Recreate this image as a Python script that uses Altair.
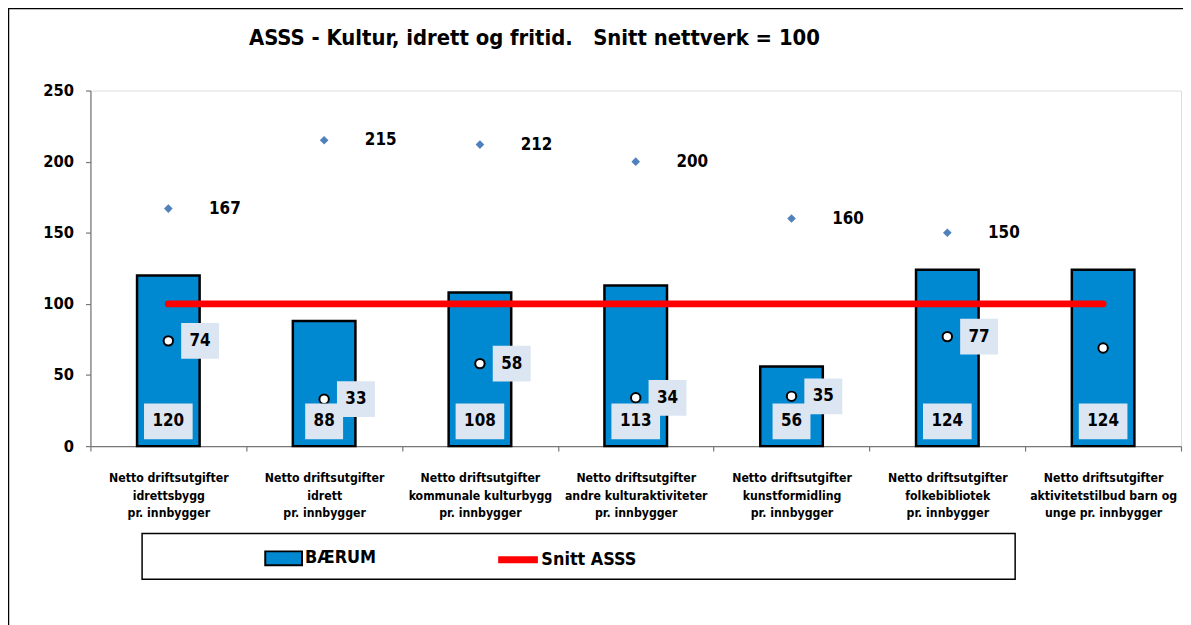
import altair as alt
import pandas as pd

FONT = "DejaVu Sans Condensed, Liberation Sans Narrow, sans-serif"

categories = [
    "Netto driftsutgifter|idrettsbygg|pr. innbygger",
    "Netto driftsutgifter|idrett|pr. innbygger",
    "Netto driftsutgifter|kommunale kulturbygg|pr. innbygger",
    "Netto driftsutgifter|andre kulturaktiviteter|pr. innbygger",
    "Netto driftsutgifter|kunstformidling|pr. innbygger",
    "Netto driftsutgifter|folkebibliotek|pr. innbygger",
    "Netto driftsutgifter|aktivitetstilbud barn og|unge pr. innbygger",
]
baerum = [120, 88, 108, 113, 56, 124, 124]
snitt = [100, 100, 100, 100, 100, 100, 100]
maks = [167, 215, 212, 200, 160, 150, None]
mins = [74, 33, 58, 34, 35, 77, 69]
min_labels = ["74", "33", "58", "34", "35", "77", ""]
y_ticks = [0, 50, 100, 150, 200, 250]

df = pd.DataFrame({
    "cat": categories,
    "baerum": baerum,
    "snitt": snitt,
    "maks": maks,
    "mins": mins,
    "minlab": min_labels,
    "serie_bar": ["BÆRUM"] * len(categories),
    "serie_line": ["Snitt ASSS"] * len(categories),
})

x = alt.X(
    "cat:N", sort=categories,
    scale=alt.Scale(paddingInner=0, paddingOuter=0),
    axis=alt.Axis(
        title=None, labelAngle=0, labelExpr="split(datum.label, '|')",
        labelFont=FONT, labelFontSize=12.3, labelFontWeight="bold", labelColor="black",
        labelLineHeight=17.5, labelPadding=21, labelBaseline="top", labelLimit=300,
        tickSize=5, tickBand="extent", tickColor="#777", domainColor="#777",
        domainWidth=1.2, tickWidth=1.2,
    ),
)
y_scale = alt.Scale(domain=[0, 250], nice=False, zero=True)
y_axis = alt.Axis(
    title=None, values=y_ticks, grid=False,
    labelFont=FONT, labelFontSize=16.5, labelFontWeight="bold", labelColor="black",
    labelPadding=12, tickSize=5, tickColor="#777", domainColor="#777",
    domainWidth=1.2, tickWidth=1.2,
)

base = alt.Chart(df)

outer_frame = alt.Chart(alt.Data(values=[{}])).mark_rect(
    fill="transparent", stroke="black", strokeWidth=1.5
).encode(x=alt.value(-82.5), x2=alt.value(1300), y=alt.value(-82.5), y2=alt.value(700))

legend_frame = alt.Chart(alt.Data(values=[{}])).mark_rect(
    fill="white", stroke="black", strokeWidth=1.5
).encode(x=alt.value(52), x2=alt.value(931), y=alt.value(446), y2=alt.value(492))

bars = base.mark_bar(size=63, stroke="black", strokeWidth=2.5).encode(
    x=x,
    y=alt.Y("baerum:Q", scale=y_scale, axis=y_axis),
    fill=alt.Fill(
        "serie_bar:N",
        scale=alt.Scale(domain=["BÆRUM"], range=["#0089D0"]),
        legend=alt.Legend(
            title=None, orient="none", legendX=175, legendY=451.5, padding=0,
            symbolType="M-1,-0.38H1V0.38H-1Z", symbolSize=1369,
            symbolStrokeColor="black", symbolStrokeWidth=2, symbolOpacity=1,
            labelFont=FONT, labelFontSize=18, labelFontWeight="bold",
            labelColor="black", labelOffset=2,
        ),
    ),
)

line = base.mark_line(strokeWidth=7, strokeCap="round").encode(
    x=x,
    y=alt.Y("snitt:Q", scale=y_scale),
    stroke=alt.Stroke(
        "serie_line:N",
        scale=alt.Scale(domain=["Snitt ASSS"], range=["#FF0000"]),
        legend=alt.Legend(
            title=None, orient="none", legendX=407, legendY=449, padding=0,
            symbolType="stroke", symbolSize=1600, symbolStrokeWidth=7,
            labelFont=FONT, labelFontSize=18, labelFontWeight="bold",
            labelColor="black", labelOffset=0,
        ),
    ),
)

diamonds = base.mark_point(shape="diamond", filled=True, size=75, color="#4F81BD", opacity=1).encode(
    x=x, y=alt.Y("maks:Q", scale=y_scale)
)
diamond_text = base.mark_text(
    align="left", baseline="middle", dx=41, font=FONT, fontSize=17, fontWeight="bold", color="black"
).encode(x=x, y=alt.Y("maks:Q", scale=y_scale), text="maks:Q")

circles = base.mark_point(
    shape="circle", filled=True, fill="white", stroke="black", strokeWidth=2, size=90, opacity=1
).encode(x=x, y=alt.Y("mins:Q", scale=y_scale))

min_boxes = base.transform_filter("datum.minlab != ''").mark_point(
    shape="M-1.06,-1H1.06V1H-1.06Z", filled=True, size=1296, color="#DCE6F2", opacity=1, xOffset=32
).encode(x=x, y=alt.Y("mins:Q", scale=y_scale))
min_text = base.transform_filter("datum.minlab != ''").mark_text(
    align="center", baseline="middle", dx=32, font=FONT, fontSize=17, fontWeight="bold", color="black"
).encode(x=x, y=alt.Y("mins:Q", scale=y_scale), text="minlab:N")

bar_boxes = base.mark_point(filled=True, size=1296, color="#DCE6F2", opacity=1).encode(
    x=x, y=alt.value(333),
    shape=alt.condition("datum.baerum >= 100",
                        alt.value("M-1.36,-1H1.36V1H-1.36Z"),
                        alt.value("M-1.06,-1H1.06V1H-1.06Z")),
)
bar_text = base.mark_text(
    align="center", baseline="middle", font=FONT, fontSize=17, fontWeight="bold", color="black"
).encode(x=x, y=alt.value(333), text="baerum:Q")

chart = alt.layer(
    outer_frame, legend_frame, bars, line, diamonds, diamond_text,
    circles, min_boxes, min_text, bar_boxes, bar_text,
).resolve_scale(fill="independent", stroke="independent").properties(
    width=1098, height=358,
    padding={"left": 83, "top": 81, "right": 2, "bottom": 178},
    autosize=alt.AutoSizeParams(type="none"),
    title=alt.Title(
        "ASSS - Kultur, idrett og fritid.\u00a0\u00a0\u00a0Snitt nettverk = 100",
        font=FONT, fontSize=22, fontWeight="bold", color="black",
        anchor="middle", dx=-102, dy=59, frame="group", baseline="alphabetic", offset=0,
    ),
).configure_view(stroke=None).configure(background="white")

chart.save("out.html", embed_options={"renderer": "svg", "actions": False})
